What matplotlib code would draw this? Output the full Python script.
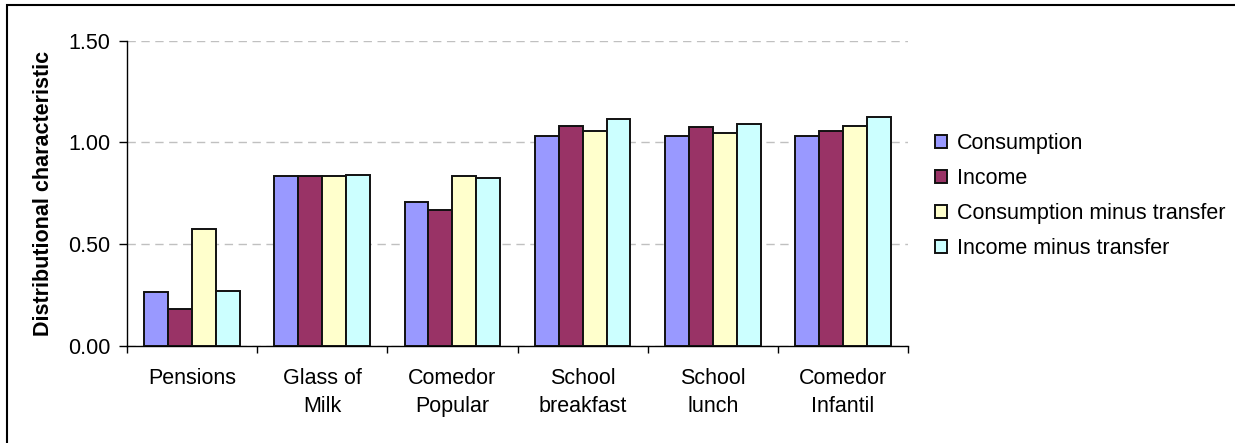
import matplotlib
matplotlib.use("Agg")
import matplotlib.pyplot as plt
from matplotlib.patches import Rectangle
import numpy as np

plt.rcParams['font.family'] = ['Liberation Sans', 'DejaVu Sans']

categories = ["Pensions", "Glass of\nMilk", "Comedor\nPopular", "School\nbreakfast", "School\nlunch", "Comedor\nInfantil"]
series_names = ["Consumption", "Income", "Consumption minus transfer", "Income minus transfer"]
consumption = [0.263, 0.834, 0.709, 1.031, 1.031, 1.031]
income = [0.180, 0.834, 0.668, 1.080, 1.074, 1.057]
consumption_minus = [0.576, 0.834, 0.834, 1.056, 1.048, 1.080]
income_minus = [0.271, 0.842, 0.824, 1.115, 1.090, 1.123]
series_values = [consumption, income, consumption_minus, income_minus]
colors = ["#9999FF", "#993366", "#FFFFCC", "#CCFFFF"]
yticks = [0.0, 0.5, 1.0, 1.5]

W, H = 1235, 443
fig = plt.figure(figsize=(W/100, H/100), dpi=100)
ax = fig.add_axes([127/W, 1-346/H, (908-127)/W, (346-40.7)/H])

fs = 15.5
n = len(categories)
bw = 0.184
x = np.arange(n) + 0.5
for j, (name, vals, c) in enumerate(zip(series_names, series_values, colors)):
    ax.bar(x + (j - 1.5) * bw, vals, width=bw, color=c, edgecolor='#111111',
           linewidth=1.4, label=name, zorder=3)

ax.set_xlim(0, n)
ax.set_ylim(0, 1.5)
ax.set_yticks(yticks)
ax.set_yticklabels([f"{v:.2f}" for v in yticks], fontsize=fs)
ax.yaxis.grid(True, linestyle=(0, (6, 4)), color='#c0c0c0', linewidth=1.0, zorder=0)
ax.set_axisbelow(True)

ax.set_xticks(np.arange(n + 1))
ax.set_xticklabels([])
ax.set_xticks(x, minor=True)
ax.set_xticklabels(categories, minor=True, fontsize=fs, linespacing=1.4)
ax.tick_params(axis='x', which='major', length=5, direction='out', width=1)
ax.tick_params(axis='x', which='minor', length=0, pad=16)
ax.tick_params(axis='y', length=6, width=1, pad=6)

for s in ['top', 'right']:
    ax.spines[s].set_visible(False)
for s in ['left', 'bottom']:
    ax.spines[s].set_linewidth(1.0)
    ax.spines[s].set_color('black')

ax.set_ylabel("Distributional characteristic", fontsize=fs, fontweight='bold', labelpad=10)

leg = fig.legend(loc='center left', bbox_to_anchor=(935/W, 1-196/H), frameon=False,
                 fontsize=fs, handlelength=0.55, handleheight=0.55, handletextpad=0.45,
                 labelspacing=0.65, borderpad=0, borderaxespad=0)

fig.patches.append(Rectangle((7/W, -0.1), 1.1, 1 - 5/H + 0.1, transform=fig.transFigure,
                             fill=False, edgecolor='black', linewidth=1.5, zorder=10))

fig.savefig("out.png", dpi=100)
